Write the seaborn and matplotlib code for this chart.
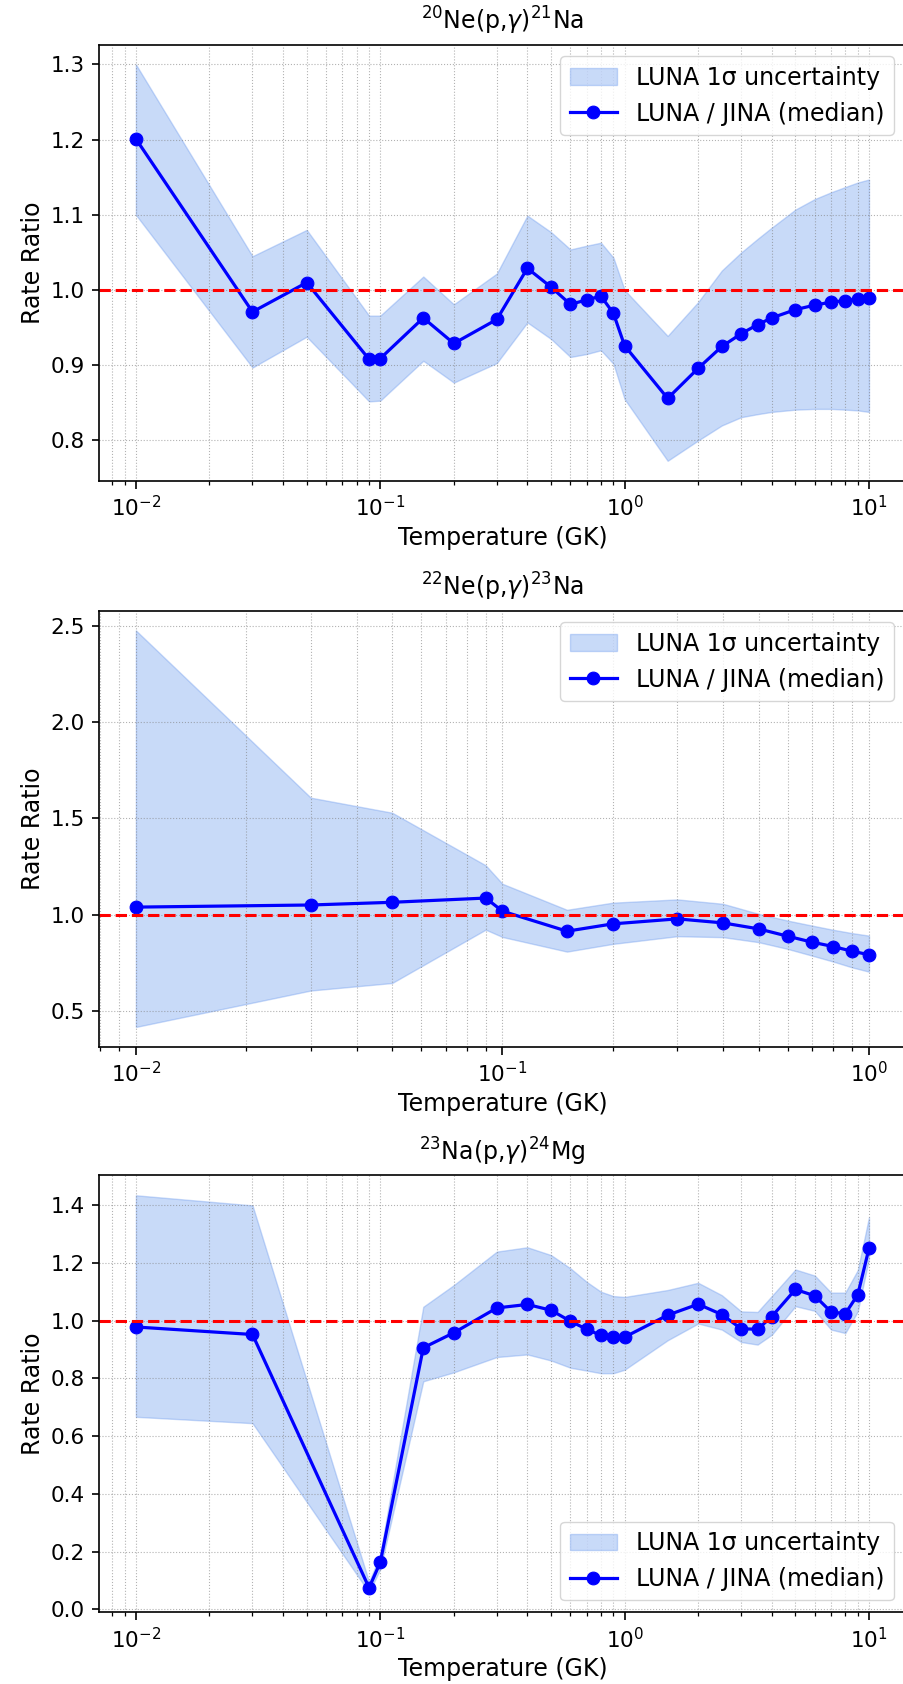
import numpy as np
import pandas as pd
import matplotlib
matplotlib.use('Agg')
import matplotlib.pyplot as plt
import seaborn as sns

# 20Ne(p,g)21Na
T1 = [0.01, 0.03, 0.05, 0.09, 0.1, 0.15, 0.2, 0.3, 0.4, 0.5, 0.6, 0.7, 0.8, 0.9, 1.0,
      1.5, 2.0, 2.5, 3.0, 3.5, 4.0, 5.0, 6.0, 7.0, 8.0, 9.0, 10.0]
med1 = [1.201, 0.971, 1.010, 0.908, 0.909, 0.963, 0.929, 0.961, 1.029, 1.004, 0.981, 0.987, 0.992, 0.969, 0.926,
        0.856, 0.896, 0.925, 0.942, 0.954, 0.963, 0.974, 0.980, 0.984, 0.986, 0.988, 0.990]
lo1 = [1.100, 0.897, 0.938, 0.852, 0.853, 0.906, 0.877, 0.903, 0.957, 0.935, 0.911, 0.915, 0.920, 0.902, 0.855,
       0.773, 0.800, 0.820, 0.831, 0.835, 0.838, 0.841, 0.842, 0.842, 0.841, 0.840, 0.838]
hi1 = [1.300, 1.045, 1.080, 0.966, 0.966, 1.018, 0.981, 1.022, 1.099, 1.077, 1.054, 1.059, 1.063, 1.043, 1.000,
       0.939, 0.984, 1.026, 1.050, 1.068, 1.083, 1.107, 1.121, 1.130, 1.137, 1.143, 1.147]

# 22Ne(p,g)23Na
T2 = [0.01, 0.03, 0.05, 0.09, 0.1, 0.15, 0.2, 0.3, 0.4, 0.5, 0.6, 0.7, 0.8, 0.9, 1.0]
med2 = [1.040, 1.051, 1.065, 1.087, 1.019, 0.915, 0.953, 0.979, 0.958, 0.927, 0.889, 0.858, 0.835, 0.811, 0.793]
lo2 = [0.418, 0.607, 0.646, 0.923, 0.885, 0.809, 0.849, 0.889, 0.884, 0.858, 0.823, 0.788, 0.757, 0.727, 0.705]
hi2 = [2.476, 1.608, 1.530, 1.257, 1.161, 1.026, 1.063, 1.080, 1.057, 1.005, 0.970, 0.944, 0.922, 0.905, 0.892]

# 23Na(p,g)24Mg
T3 = [0.01, 0.03, 0.09, 0.1, 0.15, 0.2, 0.3, 0.4, 0.5, 0.6, 0.7, 0.8, 0.9, 1.0,
      1.5, 2.0, 2.5, 3.0, 3.5, 4.0, 5.0, 6.0, 7.0, 8.0, 9.0, 10.0]
med3 = [0.978, 0.952, 0.075, 0.163, 0.906, 0.958, 1.044, 1.056, 1.036, 0.998, 0.970, 0.949, 0.943, 0.943,
        1.019, 1.057, 1.021, 0.972, 0.970, 1.014, 1.108, 1.086, 1.030, 1.024, 1.090, 1.250]
lo3 = [0.667, 0.645, 0.059, 0.140, 0.790, 0.821, 0.874, 0.883, 0.862, 0.837, 0.827, 0.818, 0.818, 0.830,
       0.932, 0.990, 0.969, 0.926, 0.917, 0.951, 1.050, 1.034, 0.969, 0.957, 1.032, 1.216]
hi3 = [1.434, 1.399, 0.095, 0.190, 1.048, 1.123, 1.239, 1.254, 1.227, 1.181, 1.134, 1.100, 1.085, 1.082,
       1.106, 1.131, 1.088, 1.032, 1.030, 1.085, 1.177, 1.156, 1.097, 1.097, 1.175, 1.358]

titles = [r'$^{20}$Ne(p,$\gamma$)$^{21}$Na',
          r'$^{22}$Ne(p,$\gamma$)$^{23}$Na',
          r'$^{23}$Na(p,$\gamma$)$^{24}$Mg']
legend_locs = ['upper right', 'upper right', 'lower right']

panels = [(T1, med1, lo1, hi1), (T2, med2, lo2, hi2), (T3, med3, lo3, hi3)]

fig, axes = plt.subplots(3, 1, figsize=(9.04, 16.84), dpi=100)
# axes positions (left, bottom, width, height) in figure fraction
positions = [[0.1098, 0.7146, 0.892, 0.2589],
             [0.1098, 0.3784, 0.892, 0.2590],
             [0.1098, 0.0426, 0.892, 0.2594]]

for ax, (T, med, lo, hi), title, loc, pos in zip(axes, panels, titles, legend_locs, positions):
    ax.set_position(pos)
    df = pd.DataFrame({'T': T, 'median': med, 'lo': lo, 'hi': hi})
    ax.set_xscale('log')
    ax.fill_between(df['T'], df['lo'], df['hi'], color='cornflowerblue', alpha=0.35,
                    label='LUNA 1σ uncertainty')
    sns.lineplot(data=df, x='T', y='median', ax=ax, color='blue', marker='o',
                 markersize=9.2, markeredgecolor='blue', linewidth=2.3,
                 label='LUNA / JINA (median)')
    ax.axhline(1.0, color='red', linestyle='--', linewidth=2.2)
    ax.grid(True, which='both', linestyle=':', color='gray', alpha=0.6)
    ax.set_title(title, fontsize=17, pad=11)
    ax.set_xlabel('Temperature (GK)', fontsize=17)
    ax.set_ylabel('Rate Ratio', fontsize=17)
    ax.tick_params(axis='both', which='major', labelsize=15.5, length=5.4, width=1.2, pad=5)
    ax.tick_params(axis='both', which='minor', length=3.1, width=0.9)
    for sp in ax.spines.values():
        sp.set_linewidth(1.2)
    ax.legend(loc=loc, fontsize=17)

fig.savefig('out.png', dpi=100)
